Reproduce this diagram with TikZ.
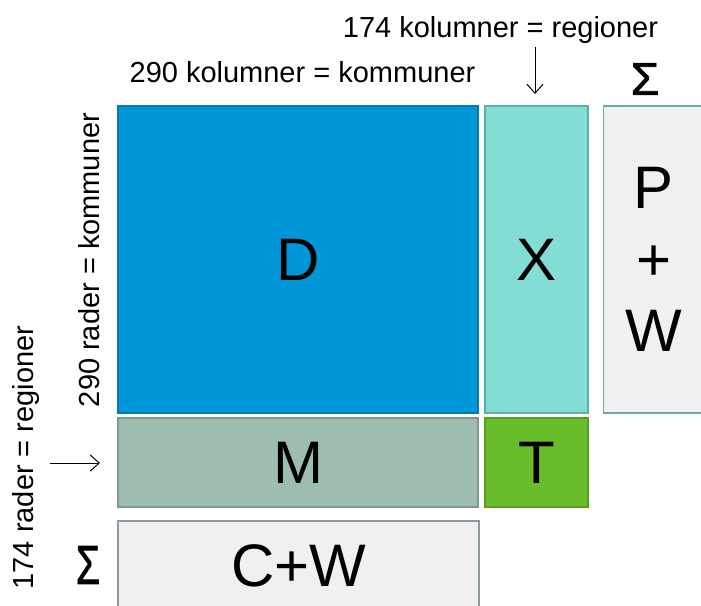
\documentclass[tikz,border=0pt]{standalone}
\usepackage{fontspec}
\usepackage{graphicx}
\setmainfont{Liberation Sans}
\newfontfamily\sigfont[FakeBold=1.6]{Liberation Sans}
\usetikzlibrary{arrows.meta}
\definecolor{cD}{HTML}{0097D8}
\definecolor{cDb}{HTML}{0B78AE}
\definecolor{cX}{HTML}{82DDD5}
\definecolor{cXb}{HTML}{62ADA6}
\definecolor{cL}{HTML}{F0F0F0}
\definecolor{cPWb}{HTML}{6EAAA3}
\definecolor{cCWb}{HTML}{8A9C96}
\definecolor{cM}{HTML}{9DBDAF}
\definecolor{cMb}{HTML}{7D9890}
\definecolor{cT}{HTML}{6ABD2A}
\definecolor{cTb}{HTML}{55A020}
\begin{document}
\begin{tikzpicture}[x=1pt,y=-1pt,
  cell/.style={draw, line width=1.5pt, inner sep=0pt, outer sep=0pt, font=\fontsize{60}{71.5}\selectfont, align=center},
  lab/.style={font=\fontsize{29}{34}\selectfont, inner sep=0pt},
  sig/.style={font=\fontsize{46}{50}\sigfont, inner sep=0pt},
  pointer/.style={-{Straight Barb[length=9pt,width=16pt]}, line width=1pt}]
\useasboundingbox (0,0) rectangle (701,605);
% boxes
\node[cell, fill=cD, draw=cDb, minimum width=360pt, minimum height=307pt] (D) at (298,259.5) {D};
\node[cell, fill=cX, draw=cXb, minimum width=103pt, minimum height=307pt] (X) at (536.5,259.5) {X};
\node[cell, fill=cL, draw=cPWb, minimum width=101pt, minimum height=307pt] (PW) at (654,259.5) {P\\+\\W};
\node[cell, fill=cM, draw=cMb, minimum width=360pt, minimum height=89pt] (M) at (298,462.5) {M};
\node[cell, fill=cT, draw=cTb, minimum width=103pt, minimum height=89pt] (T) at (536.5,462.5) {T};
\node[cell, fill=cL, draw=cCWb, minimum width=361pt, minimum height=89pt] (CW) at (298.5,565.5) {C+W};
% labels
\node[lab, anchor=base] (kolK) at (302.5,82) {290 kolumner = kommuner};
\node[lab, anchor=base] (kolR) at (500.5,37) {174 kolumner = regioner};
\node[sig] (sigT) at (645,79) {Σ};
\node[lab, anchor=base, rotate=90] (radK) at (99,260) {290 rader = kommuner};
\node[lab, anchor=base, rotate=90] (radR) at (33,457.5) {174 rader = regioner};
\node[sig] (sigL) at (88,565) {\scalebox{0.85}[1.2]{Σ}};
% arrows
\coordinate (aTs) at (535,47);
\coordinate (aTe) at (535,94);
\coordinate (aLs) at (50,463);
\coordinate (aLe) at (100,463);
\draw[pointer] (aTs) -- (aTe);
\draw[pointer] (aLs) -- (aLe);
\end{tikzpicture}
\end{document}
